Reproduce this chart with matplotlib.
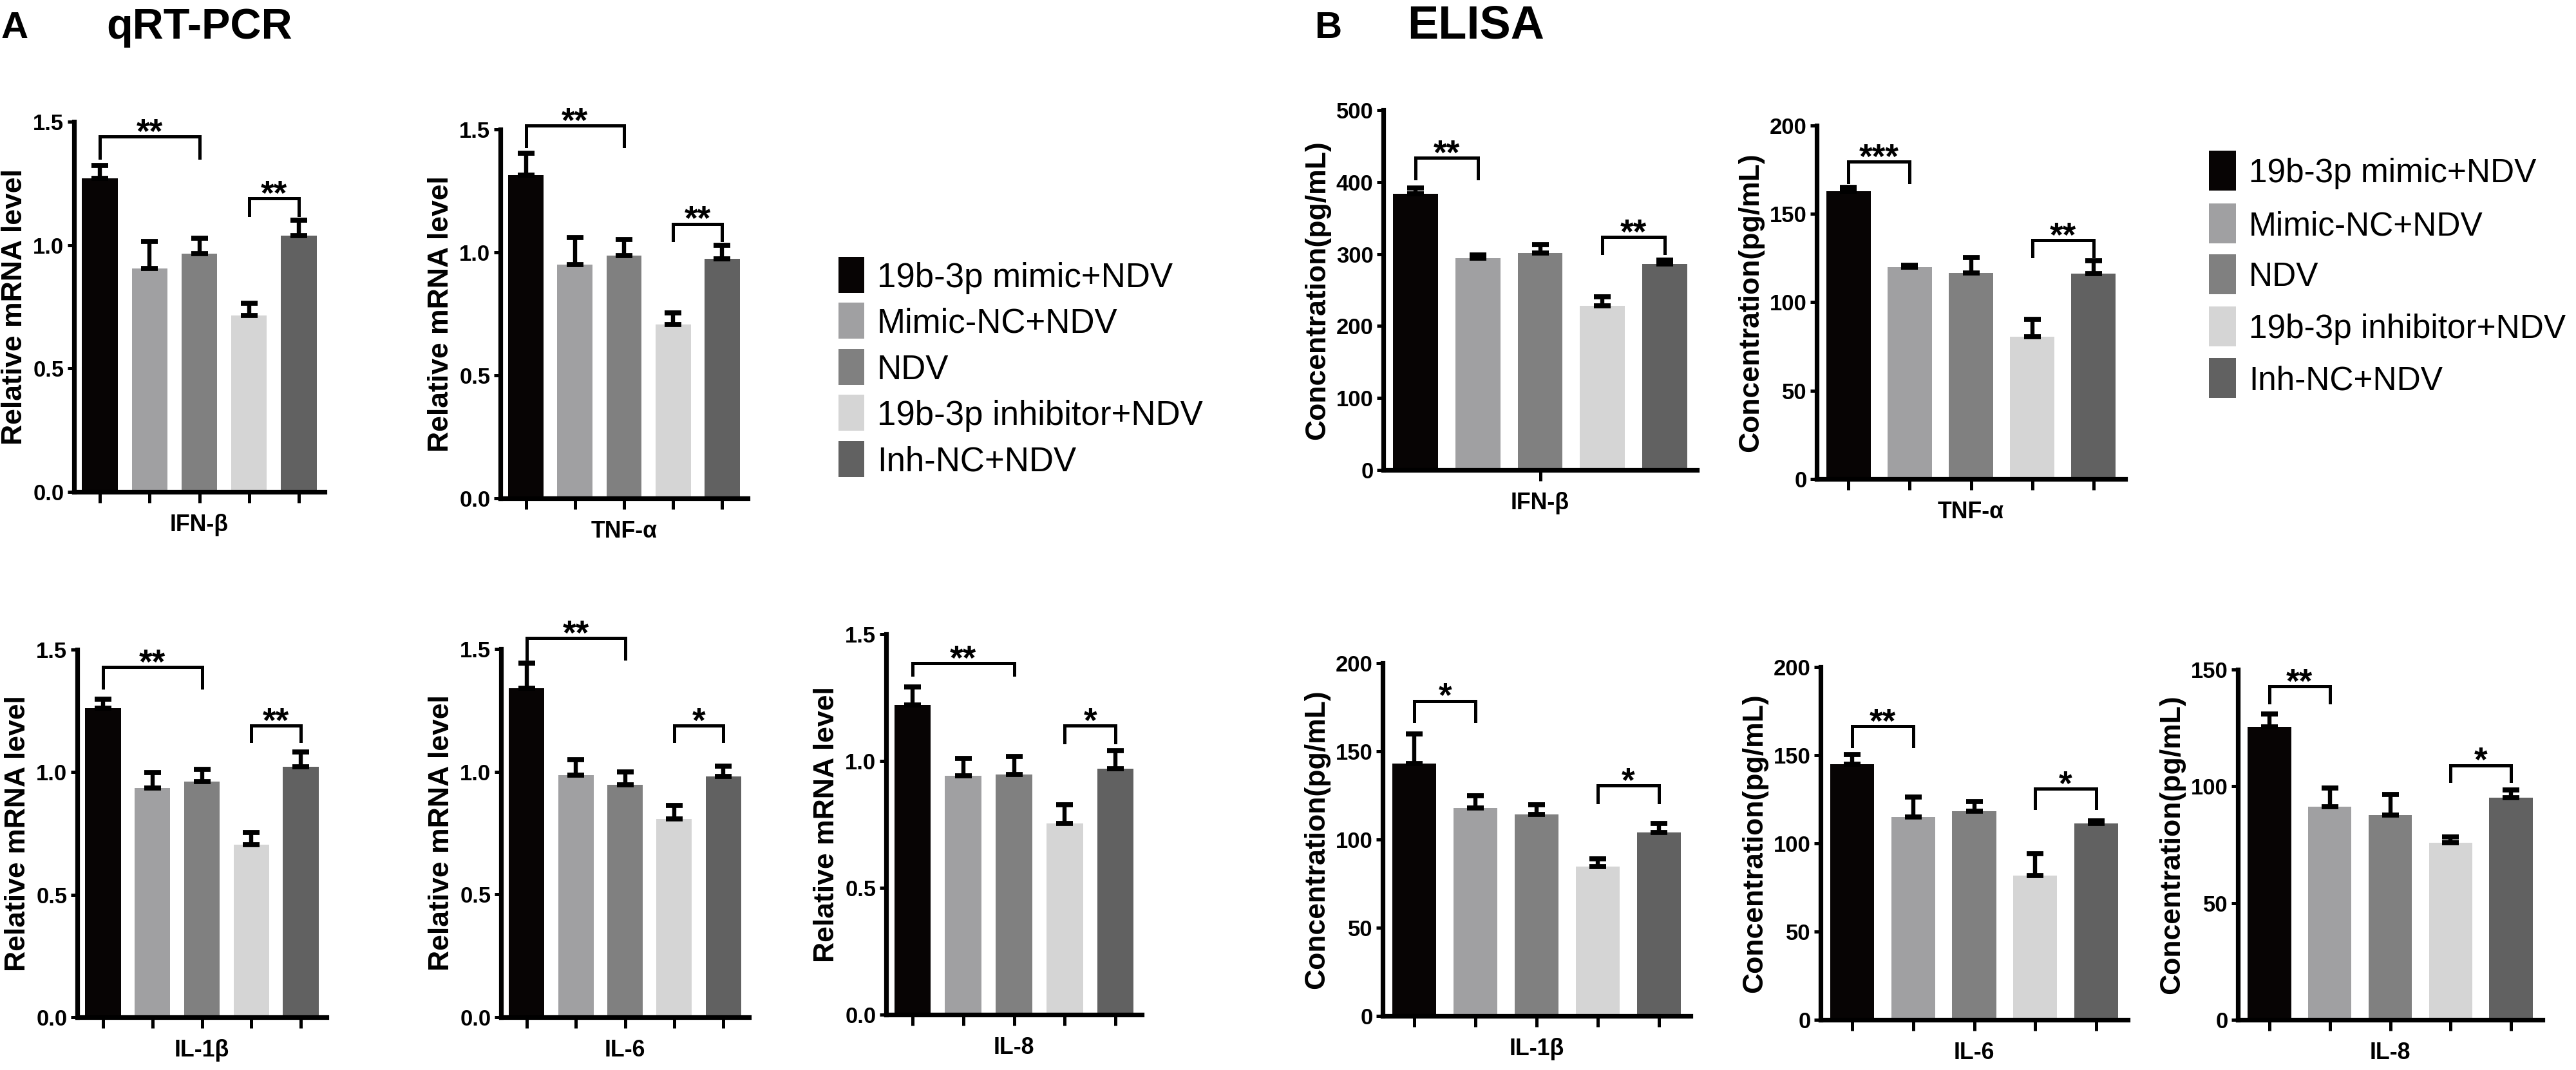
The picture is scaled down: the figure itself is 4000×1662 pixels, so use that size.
"""qRT-PCR and ELISA bar panels for the five miR-19b-3p groups."""
import matplotlib
matplotlib.use("Agg")
import matplotlib.pyplot as plt
import numpy as np
from matplotlib import font_manager
from matplotlib.patches import Rectangle

W, H = 4000, 1662
DPI = 200

_names = {f.name for f in font_manager.fontManager.ttflist}
NARROW = "Liberation Sans Narrow" if "Liberation Sans Narrow" in _names else "Liberation Sans"
WIDE = "Liberation Sans" if "Liberation Sans" in _names else "DejaVu Sans"
plt.rcParams["font.family"] = [WIDE, "DejaVu Sans"]
# no condensed face installed -> shrink the narrow texts a bit
SHRINK = 1.0 if NARROW.endswith("Narrow") else 0.86

GROUPS = ["19b-3p mimic+NDV", "Mimic-NC+NDV", "NDV", "19b-3p inhibitor+NDV", "Inh-NC+NDV"]
COLORS = ["#070404", "#a0a0a2", "#808080", "#d5d5d5", "#616161"]

# --- qRT-PCR (relative mRNA level), mean and upper SEM ---
PCR_IFNB = [1.270, 0.905, 0.966, 0.715, 1.037]
PCR_IFNB_ERR = [0.053, 0.110, 0.063, 0.050, 0.065]
PCR_IFNB_SIG = [(0, 2, 1.440, 1.355, "**"), (3, 4, 1.190, 1.122, "**")]

PCR_TNFA = [1.314, 0.950, 0.987, 0.707, 0.975]
PCR_TNFA_ERR = [0.088, 0.110, 0.065, 0.047, 0.053]
PCR_TNFA_SIG = [(0, 2, 1.515, 1.431, "**"), (3, 4, 1.116, 1.051, "**")]

PCR_IL1B = [1.262, 0.934, 0.961, 0.705, 1.023]
PCR_IL1B_ERR = [0.036, 0.065, 0.050, 0.050, 0.060]
PCR_IL1B_SIG = [(0, 2, 1.428, 1.344, "**"), (3, 4, 1.190, 1.127, "**")]

PCR_IL6 = [1.339, 0.985, 0.946, 0.808, 0.981]
PCR_IL6_ERR = [0.104, 0.065, 0.053, 0.055, 0.043]
PCR_IL6_SIG = [(0, 2, 1.545, 1.461, "**"), (3, 4, 1.187, 1.125, "*")]

PCR_IL8 = [1.222, 0.941, 0.947, 0.753, 0.969]
PCR_IL8_ERR = [0.070, 0.070, 0.070, 0.075, 0.072]
PCR_IL8_SIG = [(0, 2, 1.385, 1.340, "**"), (3, 4, 1.139, 1.073, "*")]

# --- ELISA (pg/mL) ---
ELISA_IFNB = [383.6, 294.5, 301.4, 228.3, 286.3]
ELISA_IFNB_ERR = [7.8, 4.0, 11.4, 12.0, 5.5]
ELISA_IFNB_SIG = [(0, 1, 433.8, 405.0, "**"), (3, 4, 324.0, 301.0, "**")]

ELISA_TNFA = [162.9, 119.7, 116.6, 80.6, 116.1]
ELISA_TNFA_ERR = [2.0, 1.2, 8.8, 9.6, 7.3]
ELISA_TNFA_SIG = [(0, 1, 179.5, 168.0, "***"), (3, 4, 135.2, 126.2, "**")]

ELISA_IL1B = [143.2, 117.9, 114.1, 84.6, 104.0]
ELISA_IL1B_ERR = [16.7, 7.1, 5.7, 4.3, 5.1]
ELISA_IL1B_SIG = [(0, 1, 178.6, 167.1, "*"), (3, 4, 130.5, 121.0, "*")]

ELISA_IL6 = [144.9, 115.1, 118.3, 81.7, 111.4]
ELISA_IL6_ERR = [5.6, 11.1, 5.5, 12.4, 1.2]
ELISA_IL6_SIG = [(0, 1, 166.3, 155.2, "**"), (3, 4, 131.1, 120.0, "*")]

ELISA_IL8 = [125.5, 91.3, 87.7, 75.7, 95.2]
ELISA_IL8_ERR = [5.4, 8.0, 8.9, 2.6, 3.2]
ELISA_IL8_SIG = [(0, 1, 142.8, 136.0, "**"), (3, 4, 109.0, 102.4, "*")]


def px_axes(fig, left, right, top, bottom):
    return fig.add_axes([left / W, 1 - bottom / H, (right - left) / W, (bottom - top) / H])


def draw_panel(ax, rect, means, errs, sigs, name, ylabel, yticks, fmt, ylab_px, one_tick=False):
    left, right, top, bottom = rect
    x = np.arange(len(means))
    ax.bar(x, means, width=0.72, color=COLORS, edgecolor="none", zorder=2)
    ax.errorbar(x, means, yerr=[np.zeros(len(errs)), errs], fmt="none",
                ecolor="black", elinewidth=2.3, capsize=4.6, capthick=2.8, zorder=3)
    for i, j, y, yb, lab in sigs:
        ax.plot([x[i], x[i], x[j], x[j]], [yb, y, y, yb], color="black", lw=1.8,
                clip_on=False, solid_joinstyle="miter", zorder=4)
        ax.annotate(lab, ((x[i] + x[j]) / 2, y), xytext=(0, -3.5),
                    textcoords="offset points", ha="center", va="baseline",
                    fontsize=19, fontweight="bold", annotation_clip=False)

    ax.set_xlim(-0.52, 4.52)
    ax.set_ylim(0, yticks[-1])
    ax.set_yticks(yticks)
    ax.set_yticklabels([fmt.format(v) for v in yticks])
    if one_tick:
        ax.set_xticks([2])
    else:
        ax.set_xticks(x)
    ax.set_xticklabels([])

    for side in ("top", "right"):
        ax.spines[side].set_visible(False)
    for side in ("left", "bottom"):
        ax.spines[side].set_linewidth(2.6)
    ax.tick_params(axis="y", length=3.6, width=1.8, pad=2, labelsize=14.5 * SHRINK)
    ax.tick_params(axis="x", length=6, width=1.8)
    for lab in ax.get_yticklabels():
        lab.set_fontfamily([NARROW, "DejaVu Sans"])
        lab.set_fontweight("bold")

    w_px = right - left
    h_px = bottom - top
    ax.set_ylabel(ylabel, fontsize=16, fontweight="bold")
    ax.yaxis.set_label_coords(-ylab_px / w_px, 0.5)
    ax.set_xlabel(name, fontsize=15 * SHRINK, fontweight="bold", family=[NARROW, "DejaVu Sans"])
    ax.xaxis.set_label_coords(0.5, -34 / h_px)


def draw_legend(fig, x0, x1, tops, hgt, tx, fontsize):
    cap = 0.716 * fontsize / 72 * DPI
    for top, color, name in zip(tops, COLORS, GROUPS):
        fig.add_artist(Rectangle((x0 / W, 1 - (top + hgt) / H), (x1 - x0) / W, hgt / H,
                                 transform=fig.transFigure, facecolor=color, edgecolor="none"))
        yc = top + hgt / 2
        fig.text(tx / W, 1 - (yc + cap / 2) / H, name, fontsize=fontsize, va="baseline",
                 ha="left", family=[NARROW, "DejaVu Sans"])


def main():
    fig = plt.figure(figsize=(W / DPI, H / DPI), dpi=DPI)

    pcr_label = "Relative mRNA level"
    pcr_ticks = [0.0, 0.5, 1.0, 1.5]
    panels_a = [
        ((115, 504, 189, 764), PCR_IFNB, PCR_IFNB_ERR, PCR_IFNB_SIG, "IFN-β"),
        ((777, 1161, 201, 774), PCR_TNFA, PCR_TNFA_ERR, PCR_TNFA_SIG, "TNF-α"),
        ((120, 507, 1009, 1580), PCR_IL1B, PCR_IL1B_ERR, PCR_IL1B_SIG, "IL-1β"),
        ((778, 1163, 1008, 1580), PCR_IL6, PCR_IL6_ERR, PCR_IL6_SIG, "IL-6"),
        ((1376, 1773, 985, 1576), PCR_IL8, PCR_IL8_ERR, PCR_IL8_SIG, "IL-8"),
    ]
    for rect, m, e, s, name in panels_a:
        ax = px_axes(fig, *rect)
        draw_panel(ax, rect, m, e, s, name, pcr_label, pcr_ticks, "{:.1f}", 72)

    conc_label = "Concentration(pg/mL)"
    panels_b = [
        ((2148, 2635, 171, 730), ELISA_IFNB, ELISA_IFNB_ERR, ELISA_IFNB_SIG, "IFN-β",
         [0, 100, 200, 300, 400, 500], True),
        ((2821, 3300, 195, 744), ELISA_TNFA, ELISA_TNFA_ERR, ELISA_TNFA_SIG, "TNF-α",
         [0, 50, 100, 150, 200], False),
        ((2147, 2625, 1030, 1578), ELISA_IL1B, ELISA_IL1B_ERR, ELISA_IL1B_SIG, "IL-1β",
         [0, 50, 100, 150, 200], False),
        ((2827, 3304, 1036, 1584), ELISA_IL6, ELISA_IL6_ERR, ELISA_IL6_SIG, "IL-6",
         [0, 50, 100, 150, 200], False),
        ((3475, 3948, 1040, 1584), ELISA_IL8, ELISA_IL8_ERR, ELISA_IL8_SIG, "IL-8",
         [0, 50, 100, 150], False),
    ]
    for rect, m, e, s, name, ticks, one in panels_b:
        ax = px_axes(fig, *rect)
        draw_panel(ax, rect, m, e, s, name, conc_label, ticks, "{:d}", 82, one_tick=one)

    leg_a = 21.5 if SHRINK == 1.0 else 19.0
    leg_b = 22.5 if SHRINK == 1.0 else 18.5
    draw_legend(fig, 1302, 1342, [399, 470, 542, 613, 685], 56, 1362, leg_a)
    draw_legend(fig, 3430, 3472, [234, 316, 395, 476, 556], 62, 3492, leg_b)

    fig.text(2 / W, 1 - 59 / H, "A", fontsize=21, fontweight="bold", va="baseline")
    fig.text(165 / W, 1 - 60 / H, "qRT-PCR", fontsize=24, fontweight="bold", va="baseline")
    fig.text(2041 / W, 1 - 59 / H, "B", fontsize=21, fontweight="bold", va="baseline")
    fig.text(2185 / W, 1 - 60 / H, "ELISA", fontsize=26, fontweight="bold", va="baseline")

    fig.savefig("out.png", dpi=DPI, facecolor="white")


if __name__ == "__main__":
    main()
